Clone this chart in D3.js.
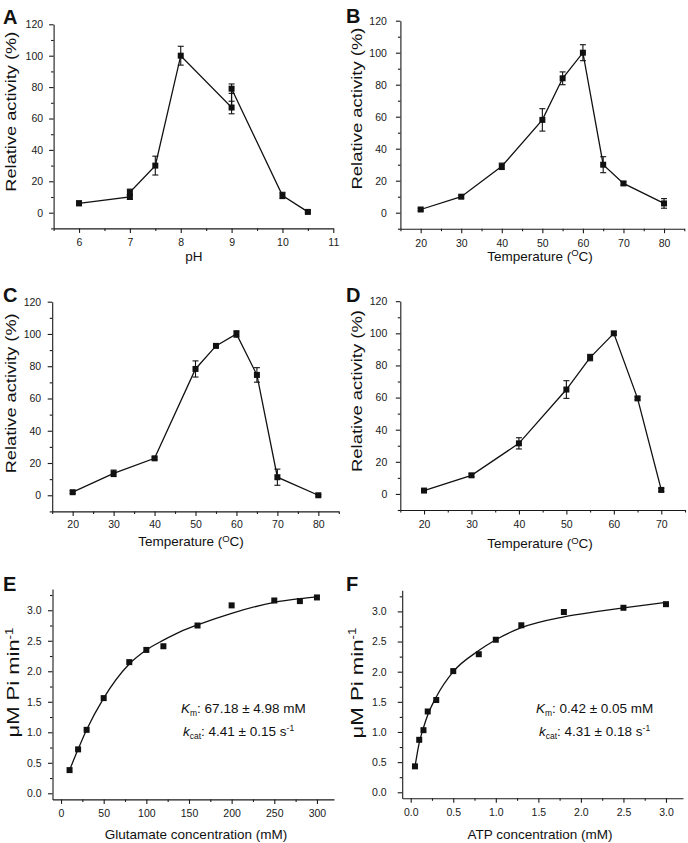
<!DOCTYPE html>
<html>
<head>
<meta charset="utf-8">
<script src="https://cdn.jsdelivr.net/npm/d3@7"></script>
<style>
  body { margin: 0; background: #fff; }
  svg { display: block; font-family: "Liberation Sans", Arial, sans-serif; }
  .tick text { font-size: 10.5px; fill: #1a1a1a; }
  .domain, .tick line { stroke: #1a1a1a; stroke-width: 1.1; }
</style>
</head>
<body>
<div id="chart"></div>
<script>
// ---- data ----
// A: pH
const phX = [6, 7, 7, 7.5, 8, 9, 9, 10, 10.5];
const phY = [6, 10, 13, 30, 100, 67, 79, 11, 0.5];
const phErr = [1.5, 1.5, 2, 6, 6, 4, 3, 2, 0.6];

// B: temperature
const tempBX = [20, 30, 40, 50, 55, 60, 65, 70, 80];
const tempBY = [2, 10, 29, 58, 84, 100, 30, 18.3, 5.8];
const tempBErr = [0.8, 0.8, 2, 7, 4, 5, 5, 1, 3];

// C: temperature
const tempCX = [20, 30, 40, 50, 55, 60, 65, 70, 80];
const tempCY = [1.9, 13.6, 22.9, 78.3, 92.6, 100, 74.6, 11.2, 0];
const tempCErr = [0.8, 2, 0.8, 5, 1, 2, 4.5, 5, 0.5];

// D: temperature
const tempDX = [20, 30, 40, 50, 55, 60, 65, 70];
const tempDY = [2.1, 11.6, 31.5, 65, 84.9, 100, 59.5, 2.5];
const tempDErr = [0.5, 1, 3.5, 5.5, 2, 1, 1, 1];

// E: glutamate kinetics
const gluX = [10, 20, 30, 50, 80, 100, 120, 160, 200, 250, 280, 300];
const gluY = [0.38, 0.72, 1.04, 1.56, 2.15, 2.35, 2.41, 2.75, 3.08, 3.16, 3.15, 3.21];
const gluFitX = [10, 20, 30, 50, 80, 100, 120, 140, 160, 200, 250, 280, 300];
const gluFitY = [0.38, 0.72, 1.04, 1.56, 2.12, 2.35, 2.51, 2.65, 2.76, 2.95, 3.13, 3.19, 3.22];

// F: ATP kinetics
const atpX = [0.05, 0.1, 0.15, 0.2, 0.3, 0.5, 0.8, 1.0, 1.3, 1.8, 2.5, 3.0];
const atpY = [0.43, 0.87, 1.03, 1.34, 1.53, 2.01, 2.29, 2.53, 2.77, 2.99, 3.06, 3.12];
const atpFitX = [0.05, 0.1, 0.15, 0.2, 0.3, 0.5, 0.8, 1.0, 1.3, 1.8, 2.2, 2.5, 3.0];
const atpFitY = [0.42, 0.82, 1.07, 1.28, 1.58, 2.0, 2.35, 2.53, 2.73, 2.91, 3.0, 3.06, 3.15];

// tick values
const activityTicks = [0, 20, 40, 60, 80, 100, 120];
const activityMinor = [-10, 10, 30, 50, 70, 90, 110];
const phTicks = [6, 7, 8, 9, 10, 11];
const phMinor = [5.5, 6.5, 7.5, 8.5, 9.5, 10.5];
const tempTicks = [20, 30, 40, 50, 60, 70, 80];
const tempMinor = [15, 25, 35, 45, 55, 65, 75, 85];
const tempTicksD = [20, 30, 40, 50, 60, 70];
const tempMinorD = [15, 25, 35, 45, 55, 65, 75];
const rateTicks = [0, 0.5, 1, 1.5, 2, 2.5, 3];
const rateMinor = [0.25, 0.75, 1.25, 1.75, 2.25, 2.75, 3.25];
const gluTicks = [0, 50, 100, 150, 200, 250, 300];
const gluMinor = [25, 75, 125, 175, 225, 275];
const atpTicks = [0, 0.5, 1, 1.5, 2, 2.5, 3];
const atpMinor = [0.25, 0.75, 1.25, 1.75, 2.25, 2.75];

const W = 688, H = 843;
const svg = d3.select("#chart").append("svg").attr("width", W).attr("height", H);

const panels = [
  { letter: "A", lx: 3, ly: 24,
    xd: [5.5, 11], xr: [53.6, 333.3], yd: [-10, 120], yr: [228.4, 24.3],
    xt: phTicks, xm: phMinor, yt: activityTicks, ym: activityMinor, xfmt: d3.format("d"), yfmt: d3.format("d"),
    ypad: 6, xpad: 6,
    xlab: "pH", xlx: 194, xly: 261, ylab: "Relative activity (%)", ylx: 16, yly: 111.7, ylen: 160,
    xs: phX, ys: phY, es: phErr },
  { letter: "B", lx: 346, ly: 23,
    xd: [15, 85], xr: [400.4, 684.3], yd: [-10, 120], yr: [228.7, 20.7],
    xt: tempTicks, xm: tempMinor, yt: activityTicks, ym: activityMinor, xfmt: d3.format("d"), yfmt: d3.format("d"),
    ypad: 9, xpad: 6,
    xlab: "temp", xlx: 540, xly: 260.5, ylab: "Relative activity (%)", ylx: 361.5, yly: 108.5, ylen: 162,
    xs: tempBX, ys: tempBY, es: tempBErr },
  { letter: "C", lx: 3, ly: 302,
    xd: [15, 85], xr: [52.2, 338.8], yd: [-10, 120], yr: [511.4, 301.7],
    xt: tempTicks, xm: tempMinor, yt: activityTicks, ym: activityMinor, xfmt: d3.format("d"), yfmt: d3.format("d"),
    ypad: 6.5, xpad: 5,
    xlab: "temp", xlx: 191, xly: 546, ylab: "Relative activity (%)", ylx: 16, yly: 393.3, ylen: 160,
    xs: tempCX, ys: tempCY, es: tempCErr },
  { letter: "D", lx: 346, ly: 302,
    xd: [15, 75], xr: [400.3, 685], yd: [-10, 120], yr: [510, 301.2],
    xt: tempTicksD, xm: tempMinorD, yt: activityTicks, ym: activityMinor, xfmt: d3.format("d"), yfmt: d3.format("d"),
    ypad: 8.5, xpad: 6,
    xlab: "temp", xlx: 540, xly: 548, ylab: "Relative activity (%)", ylx: 361.5, yly: 391, ylen: 162,
    xs: tempDX, ys: tempDY, es: tempDErr },
  { letter: "E", lx: 3, ly: 591,
    xd: [-10, 320], xr: [52.5, 334], yd: [-0.1, 3.35], yr: [799.4, 588.9],
    xt: gluTicks, xm: gluMinor, yt: rateTicks, ym: rateMinor, xfmt: d3.format("d"), yfmt: d3.format(".1f"),
    ypad: 6.5, xpad: 6,
    xlab: "Glutamate concentration (mM)", xlx: 196, xly: 839, ylab: "rate", ylx: 19, yly: 682.5, ylen: 110,
    xs: gluX, ys: gluY, fx: gluFitX, fy: gluFitY,
    km: "67.18 ± 4.98 mM", kcat: "4.41 ± 0.15 s", kx: 181, ky: 713, cx: 183, cy: 736 },
  { letter: "F", lx: 346, ly: 591,
    xd: [-0.1, 3.2], xr: [402.2, 683], yd: [-0.1, 3.35], yr: [798.3, 590.3],
    xt: atpTicks, xm: atpMinor, yt: rateTicks, ym: rateMinor, xfmt: d3.format(".1f"), yfmt: d3.format(".1f"),
    ypad: 11, xpad: 6,
    xlab: "ATP concentration (mM)", xlx: 540, xly: 839, ylab: "rate", ylx: 362.5, yly: 683, ylen: 111,
    xs: atpX, ys: atpY, fx: atpFitX, fy: atpFitY,
    km: "0.42 ± 0.05 mM", kcat: "4.31 ± 0.18 s", kx: 536, ky: 713, cx: 539, cy: 736 }
];

panels.forEach(p => {
  const x = d3.scaleLinear().domain(p.xd).range(p.xr);
  const y = d3.scaleLinear().domain(p.yd).range(p.yr);
  const g = svg.append("g");

  // panel letter
  svg.append("text").attr("x", p.lx).attr("y", p.ly)
    .attr("font-size", 20).attr("font-weight", "bold").attr("fill", "#111")
    .text(p.letter);

  // minor ticks first, then major axis on top
  g.append("g").attr("transform", `translate(0,${p.yr[0]})`)
    .call(d3.axisBottom(x).tickValues(p.xm).tickSize(2.5).tickSizeOuter(0).tickFormat(""))
    .select(".domain").remove();
  g.append("g").attr("transform", `translate(${p.xr[0]},0)`)
    .call(d3.axisLeft(y).tickValues(p.ym).tickSize(2.5).tickSizeOuter(0).tickFormat(""))
    .select(".domain").remove();

  g.append("g").attr("transform", `translate(0,${p.yr[0]})`)
    .call(d3.axisBottom(x).tickValues(p.xt).tickSize(4.5).tickSizeOuter(0).tickPadding(p.xpad).tickFormat(p.xfmt));
  g.append("g").attr("transform", `translate(${p.xr[0]},0)`)
    .call(d3.axisLeft(y).tickValues(p.yt).tickSize(4.5).tickSizeOuter(0).tickPadding(p.ypad).tickFormat(p.yfmt));

  // x label
  const xl = svg.append("text").attr("x", p.xlx).attr("y", p.xly)
    .attr("text-anchor", "middle").attr("font-size", 13.5).attr("fill", "#111");
  if (p.xlab === "temp") {
    xl.append("tspan").text("Temperature (");
    xl.append("tspan").attr("font-size", 9.5).attr("dy", -4.5).text("O");
    xl.append("tspan").attr("dy", 4.5).text("C)");
  } else {
    xl.text(p.xlab);
  }

  // y label (drawn a bit taller than wide, as in the original)
  const yl = svg.append("text")
    .attr("transform", `translate(${p.ylx},${p.yly}) rotate(-90)`)
    .attr("text-anchor", "middle").attr("fill", "#111")
    .attr("font-size", p.ylab === "rate" ? 16.5 : 14.5)
    .attr("textLength", p.ylen).attr("lengthAdjust", "spacingAndGlyphs");
  if (p.ylab === "rate") {
    yl.append("tspan").text("μM Pi min");
    yl.append("tspan").attr("font-size", 10).attr("dy", -6.5).text("-1");
  } else {
    yl.text(p.ylab);
  }

  const pts = p.xs.map((v, i) => ({ x: v, y: p.ys[i], e: p.es ? p.es[i] : 0 }));

  if (p.fx) {
    const fit = p.fx.map((v, i) => [v, p.fy[i]]);
    g.append("path").datum(fit)
      .attr("fill", "none").attr("stroke", "#111").attr("stroke-width", 1.3)
      .attr("d", d3.line().x(d => x(d[0])).y(d => y(d[1])).curve(d3.curveMonotoneX));
  } else {
    g.append("path").datum(pts)
      .attr("fill", "none").attr("stroke", "#111").attr("stroke-width", 1.3)
      .attr("d", d3.line().x(d => x(d.x)).y(d => y(d.y)));

    // error bars
    const eb = g.append("g").attr("stroke", "#111").attr("stroke-width", 1.1);
    pts.forEach(d => {
      const cx = x(d.x), y0 = y(d.y - d.e), y1 = y(d.y + d.e);
      eb.append("line").attr("x1", cx).attr("x2", cx).attr("y1", y0).attr("y2", y1);
      eb.append("line").attr("x1", cx - 3).attr("x2", cx + 3).attr("y1", y0).attr("y2", y0);
      eb.append("line").attr("x1", cx - 3).attr("x2", cx + 3).attr("y1", y1).attr("y2", y1);
    });
  }

  g.selectAll("rect.pt").data(pts).enter().append("rect")
    .attr("class", "pt")
    .attr("x", d => x(d.x) - 3).attr("y", d => y(d.y) - 3)
    .attr("width", 6).attr("height", 6).attr("fill", "#111");

  if (p.km) {
    const t1 = svg.append("text").attr("x", p.kx).attr("y", p.ky).attr("font-size", 13.5).attr("fill", "#111");
    t1.append("tspan").attr("font-style", "italic").text("K");
    t1.append("tspan").attr("font-size", 8.5).attr("dy", 3).text("m");
    t1.append("tspan").attr("dy", -3).text(": " + p.km);
    const t2 = svg.append("text").attr("x", p.cx).attr("y", p.cy).attr("font-size", 13.5).attr("fill", "#111");
    t2.append("tspan").attr("font-style", "italic").text("k");
    t2.append("tspan").attr("font-size", 8.5).attr("dy", 3).text("cat");
    t2.append("tspan").attr("dy", -3).text(": " + p.kcat);
    t2.append("tspan").attr("font-size", 8.5).attr("dy", -5).text("-1");
  }
});
</script>
</body>
</html>
